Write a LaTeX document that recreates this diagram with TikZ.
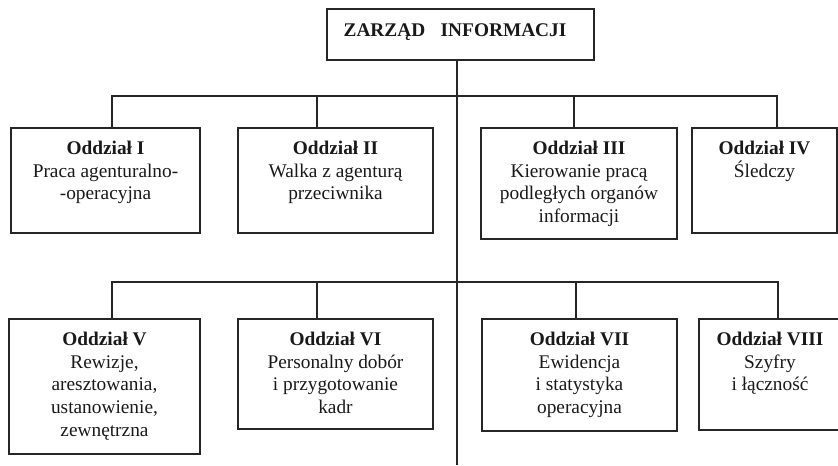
\documentclass[tikz,border=0pt]{standalone}
\usepackage{fontspec}
\setmainfont{Liberation Serif}
\usetikzlibrary{fit}

\tikzset{
  ramka/.style={draw=black!85, line width=0.9pt, rectangle, inner sep=0pt},
  opis/.style={align=center, inner sep=0pt, anchor=north, text=black!90,
               font=\fontsize{14.5}{17}\selectfont},
  linia/.style={draw=black!85, line width=1.3pt},
}

\begin{document}
\begin{tikzpicture}[x=0.75pt, y=-0.75pt]
    \useasboundingbox (0,0) rectangle (838,465);

    % Poziomy linii zbiorczych
    \def\SzynaA{96}
    \def\SzynaB{282}

    % Zarząd
    \node[ramka, fit={(327,9) (594,60)}] (zarzad) {};
    \node[opis, anchor=base] (zarzadt) at (455,36.5) {\textbf{ZARZĄD\hspace{0.8em}INFORMACJI}};

    % Oddziały - pierwszy rząd
    \node[ramka, fit={(11,128) (200,233)}] (o1) {};
    \node[ramka, fit={(238,128) (433,233)}] (o2) {};
    \node[ramka, fit={(481,128) (677,239)}] (o3) {};
    \node[ramka, fit={(692,128) (837,233)}] (o4) {};

    % Oddziały - drugi rząd (VIII wychodzi poza kadr)
    \node[ramka, fit={(9,319) (200,454)}] (o5) {};
    \node[ramka, fit={(238,319) (433,429)}] (o6) {};
    \node[ramka, fit={(482,319) (677,431)}] (o7) {};
    \node[ramka, fit={(699,319) (841,430)}] (o8) {};

    % Opisy
    \node[opis] (t1) at ([yshift=-10pt]o1.north) {\textbf{Oddział I}\\Praca agenturalno-\\-operacyjna};
    \node[opis] (t2) at ([yshift=-10pt]o2.north) {\textbf{Oddział II}\\Walka z agenturą\\przeciwnika};
    \node[opis] (t3) at ([yshift=-10pt]o3.north) {\textbf{Oddział III}\\Kierowanie pracą\\podległych organów\\informacji};
    \node[opis] (t4) at ([yshift=-10pt]o4.north) {\textbf{Oddział IV}\\Śledczy};
    \node[opis] (t5) at ([yshift=-10pt]o5.north) {\textbf{Oddział V}\\Rewizje,\\aresztowania,\\ustanowienie,\\zewnętrzna};
    \node[opis] (t6) at ([yshift=-10pt]o6.north) {\textbf{Oddział VI}\\Personalny dobór\\i przygotowanie\\kadr};
    \node[opis] (t7) at ([yshift=-10pt]o7.north) {\textbf{Oddział VII}\\Ewidencja\\i statystyka\\operacyjna};
    \node[opis] (t8) at ([yshift=-10pt]o8.north) {\textbf{Oddział VIII}\\Szyfry\\i łączność};

    % Pień
    \coordinate (pien) at (457,465);
    \draw[linia] (pien |- zarzad.south) -- (pien);

    % Punkty odgałęzień
    \coordinate (s1) at (112,\SzynaA);
    \coordinate (s2) at (317,\SzynaA);
    \coordinate (s3) at (574,\SzynaA);
    \coordinate (s4) at (777,\SzynaA);
    \coordinate (s5) at (112,\SzynaB);
    \coordinate (s6) at (317,\SzynaB);
    \coordinate (s7) at (576,\SzynaB);
    \coordinate (s8) at (778,\SzynaB);

    % Linie zbiorcze z odgałęzieniami skrajnymi
    \draw[linia] (s1 |- o1.north) -- (s1) -- (s4) -- (s4 |- o4.north);
    \draw[linia] (s5 |- o5.north) -- (s5) -- (s8) -- (s8 |- o8.north);

    % Odgałęzienia środkowe
    \foreach \n in {2,3,6,7}
        \draw[linia] (s\n) -- (s\n |- o\n.north);

\end{tikzpicture}
\end{document}
